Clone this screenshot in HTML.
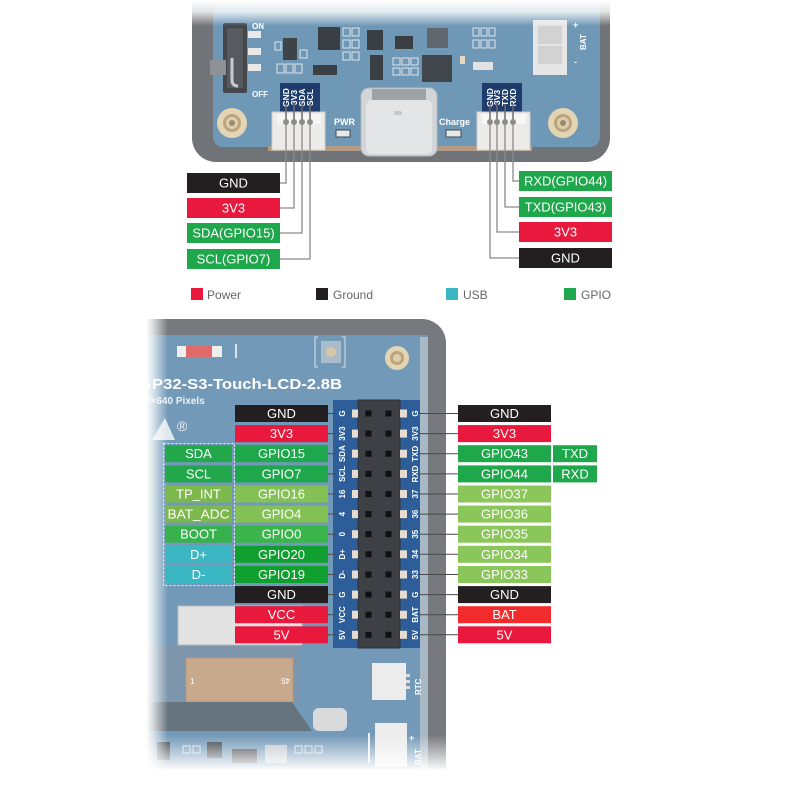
<!DOCTYPE html>
<html><head><meta charset="utf-8"><style>html,body{margin:0;padding:0;background:#fff}svg{display:block}</style></head>
<body>
<svg width="800" height="800" viewBox="0 0 800 800" xmlns="http://www.w3.org/2000/svg" font-family="'Liberation Sans', Arial, sans-serif">
<defs>
<linearGradient id="gT" x1="0" y1="0" x2="0" y2="1"><stop offset="0" stop-color="#fff"/><stop offset="0.45" stop-color="#fff" stop-opacity="0.8"/><stop offset="1" stop-color="#fff" stop-opacity="0"/></linearGradient>
<linearGradient id="gL" x1="0" y1="0" x2="1" y2="0"><stop offset="0" stop-color="#fff"/><stop offset="0.3" stop-color="#fff" stop-opacity="0.75"/><stop offset="1" stop-color="#fff" stop-opacity="0"/></linearGradient>
<linearGradient id="gB" x1="0" y1="0" x2="0" y2="1"><stop offset="0" stop-color="#fff" stop-opacity="0"/><stop offset="0.6" stop-color="#fff" stop-opacity="0.6"/><stop offset="1" stop-color="#fff"/></linearGradient>
</defs>
<rect width="800" height="800" fill="#fff"/>

<!-- ============ TOP BOARD ============ -->
<rect x="192" y="-40" width="418" height="202" rx="24" fill="#707377"/>
<rect x="213" y="-40" width="387" height="187" rx="10" fill="#6f97b6"/>
<rect x="268" y="146" width="264" height="5" fill="#b29a84"/>

<!-- switch -->
<rect x="223" y="23" width="24" height="70" rx="2" fill="#43474c"/>
<rect x="227" y="28" width="16" height="60" fill="#575b60"/>
<rect x="210" y="60" width="16" height="15" fill="#8e9296"/>
<path d="M232 58 V80 Q232 86 238 86" stroke="#c8cbce" stroke-width="3" fill="none"/>
<rect x="248" y="31" width="13" height="7" fill="#e9e9e9"/>
<rect x="248" y="48" width="13" height="7" fill="#e9e9e9"/>
<rect x="248" y="64" width="13" height="7" fill="#e9e9e9"/>
<text x="252" y="29" font-size="8" font-weight="bold" fill="#fff">ON</text>
<text x="252" y="97" font-size="8" font-weight="bold" fill="#fff">OFF</text>

<!-- chips top -->
<rect x="283" y="38" width="14" height="22" fill="#3f4449"/>
<rect x="318" y="27" width="22" height="23" fill="#3a3f44"/>
<rect x="367" y="30" width="16" height="20" fill="#3a3f44"/>
<rect x="395" y="36" width="18" height="13" fill="#3a3f44"/>
<rect x="427" y="28" width="21" height="20" fill="#5f666e"/>
<rect x="422" y="55" width="30" height="27" fill="#41464c"/>
<rect x="370" y="55" width="13" height="25" fill="#3a3f44"/>
<rect x="313" y="65" width="24" height="10" fill="#3a3f44"/>
<g stroke="#dde5eb" stroke-width="1" fill="none">
<rect x="473" y="28" width="6" height="8"/><rect x="481" y="28" width="6" height="8"/><rect x="489" y="28" width="6" height="8"/>
<rect x="473" y="40" width="6" height="8"/><rect x="481" y="40" width="6" height="8"/><rect x="489" y="40" width="6" height="8"/>
<rect x="393" y="58" width="7" height="7"/><rect x="402" y="58" width="7" height="7"/><rect x="411" y="58" width="7" height="7"/>
<rect x="393" y="68" width="7" height="7"/><rect x="402" y="68" width="7" height="7"/><rect x="411" y="68" width="7" height="7"/>
<rect x="277" y="64" width="7" height="9"/><rect x="286" y="64" width="7" height="9"/><rect x="295" y="64" width="7" height="9"/>
<rect x="343" y="28" width="7" height="8"/><rect x="352" y="28" width="7" height="8"/><rect x="343" y="40" width="7" height="8"/>
<rect x="352" y="40" width="7" height="8"/><rect x="343" y="52" width="7" height="8"/><rect x="352" y="52" width="7" height="8"/>
<rect x="300" y="50" width="7" height="8"/><rect x="275" y="42" width="6" height="8"/>
</g>
<rect x="473" y="62" width="20" height="8" fill="#e2e2e2"/>
<rect x="460" y="56" width="5" height="8" fill="#e8d8c0"/>

<!-- battery connector top -->
<rect x="533" y="20" width="34" height="55" fill="#e6e6e6"/>
<rect x="538" y="26" width="24" height="18" fill="#d2d2d2"/>
<rect x="538" y="46" width="24" height="18" fill="#d2d2d2"/>
<text x="573" y="28" font-size="9" font-weight="bold" fill="#fff">+</text>
<text transform="translate(586,50) rotate(-90)" font-size="8" font-weight="bold" fill="#fff">BAT</text>
<text x="574" y="65" font-size="9" font-weight="bold" fill="#fff">-</text>

<!-- mount holes top -->
<circle cx="232" cy="123" r="15" fill="#e3d5b3"/><circle cx="232" cy="123" r="9" fill="#bba47e"/><circle cx="232" cy="123" r="6" fill="#ddcfae"/><circle cx="232" cy="123" r="3" fill="#9a8a70"/>
<circle cx="563" cy="123" r="15" fill="#e3d5b3"/><circle cx="563" cy="123" r="9" fill="#bba47e"/><circle cx="563" cy="123" r="6" fill="#ddcfae"/><circle cx="563" cy="123" r="3" fill="#9a8a70"/>

<!-- USB-C -->
<rect x="361" y="88" width="76" height="68" rx="8" fill="#d3d6d9" stroke="#b3b8bc"/>
<rect x="372" y="89" width="54" height="12" fill="#9da2a7"/>
<rect x="366" y="100" width="66" height="54" rx="6" fill="#e3e5e7"/>
<rect x="394" y="111" width="8" height="4" rx="2" fill="#c4c7ca"/>

<text x="334" y="125" font-size="9" font-weight="bold" fill="#fff">PWR</text>
<rect x="336" y="130" width="14" height="7" fill="#e8e8e8" stroke="#3b4a58"/>
<text x="439" y="125" font-size="9" font-weight="bold" fill="#fff">Charge</text>
<rect x="446" y="130" width="15" height="7" fill="#e8e8e8" stroke="#3b4a58"/>

<!-- left connector -->
<rect x="280" y="83" width="40" height="29" fill="#1f3d6c"/>
<g font-size="8.5" font-weight="bold" fill="#fff" text-anchor="middle">
<text transform="translate(289,97.5) rotate(-90)">GND</text>
<text transform="translate(297,97.5) rotate(-90)">3V3</text>
<text transform="translate(305,97.5) rotate(-90)">SDA</text>
<text transform="translate(313,97.5) rotate(-90)">SCL</text>
</g>
<rect x="272" y="112" width="53" height="38" fill="#ecebe8" stroke="#cfcfcf"/>
<rect x="277" y="114" width="44" height="10" fill="#f6f6f4"/>
<!-- right connector -->
<rect x="482" y="83" width="40" height="29" fill="#1f3d6c"/>
<g font-size="8.5" font-weight="bold" fill="#fff" text-anchor="middle">
<text transform="translate(493,97.5) rotate(-90)">GND</text>
<text transform="translate(500,97.5) rotate(-90)">3V3</text>
<text transform="translate(508,97.5) rotate(-90)">TXD</text>
<text transform="translate(516,97.5) rotate(-90)">RXD</text>
</g>
<rect x="477" y="112" width="53" height="38" fill="#ecebe8" stroke="#cfcfcf"/>
<rect x="482" y="114" width="44" height="10" fill="#f6f6f4"/>

<!-- pins & wires top -->
<g stroke="#6d6d6d" stroke-width="1.5">
<line x1="286" y1="104" x2="286" y2="122"/><line x1="294" y1="104" x2="294" y2="122"/><line x1="302" y1="104" x2="302" y2="122"/><line x1="310" y1="104" x2="310" y2="122"/>
<line x1="490" y1="104" x2="490" y2="122"/><line x1="497" y1="104" x2="497" y2="122"/><line x1="505" y1="104" x2="505" y2="122"/><line x1="513" y1="104" x2="513" y2="122"/>
</g>
<g fill="#8d8d8d">
<circle cx="286" cy="122" r="3"/><circle cx="294" cy="122" r="3"/><circle cx="302" cy="122" r="3"/><circle cx="310" cy="122" r="3"/>
<circle cx="490" cy="122" r="3"/><circle cx="497" cy="122" r="3"/><circle cx="505" cy="122" r="3"/><circle cx="513" cy="122" r="3"/>
</g>
<g stroke="#8a8a8a" stroke-width="1.3" fill="none">
<path d="M286 122 V183 H280"/><path d="M294 122 V208 H280"/><path d="M302 122 V233 H280"/><path d="M310 122 V259 H280"/>
<path d="M513 122 V181 H519"/><path d="M505 122 V207 H519"/><path d="M497 122 V232 H519"/><path d="M490 122 V258 H519"/>
</g>

<rect x="170" y="0" width="460" height="26" fill="url(#gT)"/>

<!-- top labels -->
<g font-size="13" fill="#fff" text-anchor="middle">
<rect x="187" y="173" width="93" height="20" fill="#231f20"/><text x="233.5" y="187.6">GND</text>
<rect x="187" y="198" width="93" height="20" fill="#e8193c"/><text x="233.5" y="212.6">3V3</text>
<rect x="187" y="223" width="93" height="20" fill="#1ea84b"/><text x="233.5" y="237.6">SDA(GPIO15)</text>
<rect x="187" y="249" width="93" height="20" fill="#1ea84b"/><text x="233.5" y="263.6">SCL(GPIO7)</text>
<rect x="519" y="171" width="93" height="20" fill="#1ea84b"/><text x="565.5" y="185.6">RXD(GPIO44)</text>
<rect x="519" y="197" width="93" height="20" fill="#1ea84b"/><text x="565.5" y="211.6">TXD(GPIO43)</text>
<rect x="519" y="222" width="93" height="20" fill="#e8193c"/><text x="565.5" y="236.6">3V3</text>
<rect x="519" y="248" width="93" height="20" fill="#231f20"/><text x="565.5" y="262.6">GND</text>
</g>

<!-- legend -->
<g font-size="12" fill="#666">
<rect x="191" y="288" width="12" height="12" fill="#e8193c"/><text x="207" y="299">Power</text>
<rect x="316" y="288" width="12" height="12" fill="#231f20"/><text x="333" y="299">Ground</text>
<rect x="446" y="288" width="12" height="12" fill="#3bb7c3"/><text x="463" y="299">USB</text>
<rect x="564" y="288" width="12" height="12" fill="#1ea84b"/><text x="581" y="299">GPIO</text>
</g>

<!-- ============ BOTTOM BOARD ============ -->
<rect x="147" y="319" width="299" height="520" rx="24" fill="#76797d"/>
<rect x="147" y="319" width="40" height="520" fill="#76797d"/>
<rect x="147" y="335" width="281" height="500" fill="#7299b7"/>
<rect x="420" y="337" width="8" height="470" fill="#a9b8c5"/>

<rect x="177" y="346" width="45" height="11" fill="#efefef"/>
<rect x="186" y="346" width="26" height="11" fill="#e06a6a"/>
<rect x="235" y="344" width="2" height="14" fill="#e2e2e2"/>
<path d="M318 337 h-3 v30 h3 M342 337 h3 v30 h-3" stroke="#dce4ea" stroke-width="1" fill="none"/>
<rect x="321" y="341" width="20" height="22" fill="#a9bccb"/>
<circle cx="331" cy="352" r="5" fill="#d8c8a8"/>
<circle cx="397" cy="358" r="12" fill="#e3d5b3"/><circle cx="397" cy="358" r="7" fill="#bba47e"/><circle cx="397" cy="358" r="4" fill="#ddcfae"/>

<text x="141" y="389" font-size="15" font-weight="bold" fill="#fff">S</text>
<text x="152" y="389" font-size="15" font-weight="bold" fill="#fff" textLength="190" lengthAdjust="spacingAndGlyphs">P32-S3-Touch-LCD-2.8B</text>
<text x="145" y="404" font-size="10" font-weight="bold" fill="#eef2f5">0×640 Pixels</text>
<text x="177" y="431" font-size="14" fill="#eef2f5">®</text>
<path d="M152 440 L165 418 L175 440 Z" fill="#dfe7ee"/>

<!-- FPC / lower board -->
<rect x="150" y="645" width="150" height="58" fill="#7d96ab"/>
<rect x="178" y="606" width="124" height="39" fill="#e2e2e2" stroke="#b8bcc0"/>
<rect x="186" y="658" width="107" height="44" fill="#c9a98c" stroke="#b7977c"/>
<text x="190" y="684" font-size="8" fill="#fff">1</text>
<text transform="translate(290,678) rotate(180)" font-size="8" fill="#fff">45</text>
<polygon points="147,702 292,702 312,731 147,731" fill="#66747f"/>
<rect x="313" y="708" width="34" height="23" rx="6" fill="#d8dadc"/>
<rect x="372" y="663" width="34" height="37" fill="#ececec"/>
<rect x="406" y="674" width="4" height="3" fill="#ddd"/><rect x="406" y="680" width="4" height="3" fill="#ddd"/><rect x="406" y="686" width="4" height="3" fill="#ddd"/>
<text transform="translate(421,695) rotate(-90)" font-size="8" font-weight="bold" fill="#fff">RTC</text>
<rect x="375" y="723" width="32" height="44" fill="#ececec"/>
<rect x="368" y="733" width="2" height="30" fill="#f2f2f2"/>
<text x="409" y="741" font-size="9" font-weight="bold" fill="#fff">+</text>
<text transform="translate(421,765) rotate(-90)" font-size="8" font-weight="bold" fill="#fff">BAT</text>
<rect x="157" y="742" width="13" height="18" fill="#3f4449"/>
<rect x="207" y="742" width="15" height="16" fill="#3f4449"/>
<rect x="232" y="749" width="25" height="14" fill="#3f4449"/>
<rect x="265" y="745" width="22" height="18" fill="#c3c9cf"/>
<g stroke="#dde5eb" fill="none"><rect x="295" y="746" width="7" height="7"/><rect x="305" y="746" width="7" height="7"/><rect x="315" y="746" width="7" height="7"/><rect x="183" y="746" width="7" height="7"/><rect x="193" y="746" width="7" height="7"/></g>

<!-- header -->
<rect x="333" y="400" width="87" height="248" fill="#2d5e9a"/>
<rect x="358" y="400" width="42" height="248" fill="#3d4045" stroke="#2e3135"/>
<g fill="#111">
<rect x="365.5" y="410.5" width="6" height="6"/><rect x="385.5" y="410.5" width="6" height="6"/>
<rect x="365.5" y="430.6" width="6" height="6"/><rect x="385.5" y="430.6" width="6" height="6"/>
<rect x="365.5" y="450.7" width="6" height="6"/><rect x="385.5" y="450.7" width="6" height="6"/>
<rect x="365.5" y="470.9" width="6" height="6"/><rect x="385.5" y="470.9" width="6" height="6"/>
<rect x="365.5" y="491" width="6" height="6"/><rect x="385.5" y="491" width="6" height="6"/>
<rect x="365.5" y="511.1" width="6" height="6"/><rect x="385.5" y="511.1" width="6" height="6"/>
<rect x="365.5" y="531.2" width="6" height="6"/><rect x="385.5" y="531.2" width="6" height="6"/>
<rect x="365.5" y="551.3" width="6" height="6"/><rect x="385.5" y="551.3" width="6" height="6"/>
<rect x="365.5" y="571.5" width="6" height="6"/><rect x="385.5" y="571.5" width="6" height="6"/>
<rect x="365.5" y="591.6" width="6" height="6"/><rect x="385.5" y="591.6" width="6" height="6"/>
<rect x="365.5" y="611.7" width="6" height="6"/><rect x="385.5" y="611.7" width="6" height="6"/>
<rect x="365.5" y="631.8" width="6" height="6"/><rect x="385.5" y="631.8" width="6" height="6"/>
</g>
<g fill="#e7dccf">
<rect x="352" y="409.5" width="6" height="8"/><rect x="400" y="409.5" width="7" height="8"/>
<rect x="352" y="429.6" width="6" height="8"/><rect x="400" y="429.6" width="7" height="8"/>
<rect x="352" y="449.7" width="6" height="8"/><rect x="400" y="449.7" width="7" height="8"/>
<rect x="352" y="469.9" width="6" height="8"/><rect x="400" y="469.9" width="7" height="8"/>
<rect x="352" y="490" width="6" height="8"/><rect x="400" y="490" width="7" height="8"/>
<rect x="352" y="510.1" width="6" height="8"/><rect x="400" y="510.1" width="7" height="8"/>
<rect x="352" y="530.2" width="6" height="8"/><rect x="400" y="530.2" width="7" height="8"/>
<rect x="352" y="550.3" width="6" height="8"/><rect x="400" y="550.3" width="7" height="8"/>
<rect x="352" y="570.5" width="6" height="8"/><rect x="400" y="570.5" width="7" height="8"/>
<rect x="352" y="590.6" width="6" height="8"/><rect x="400" y="590.6" width="7" height="8"/>
<rect x="352" y="610.7" width="6" height="8"/><rect x="400" y="610.7" width="7" height="8"/>
<rect x="352" y="630.8" width="6" height="8"/><rect x="400" y="630.8" width="7" height="8"/>
</g>
<g font-size="8" font-weight="bold" fill="#fff" text-anchor="middle">
<text transform="translate(345,413.5) rotate(-90)">G</text>
<text transform="translate(345,433.6) rotate(-90)">3V3</text>
<text transform="translate(345,453.7) rotate(-90)">SDA</text>
<text transform="translate(345,473.9) rotate(-90)">SCL</text>
<text transform="translate(345,494) rotate(-90)">16</text>
<text transform="translate(345,514.1) rotate(-90)">4</text>
<text transform="translate(345,534.2) rotate(-90)">0</text>
<text transform="translate(345,554.3) rotate(-90)">D+</text>
<text transform="translate(345,574.5) rotate(-90)">D-</text>
<text transform="translate(345,594.6) rotate(-90)">G</text>
<text transform="translate(345,614.7) rotate(-90)">VCC</text>
<text transform="translate(345,634.8) rotate(-90)">5V</text>
<text transform="translate(418,413.5) rotate(-90)">G</text>
<text transform="translate(418,433.6) rotate(-90)">3V3</text>
<text transform="translate(418,453.7) rotate(-90)">TXD</text>
<text transform="translate(418,473.9) rotate(-90)">RXD</text>
<text transform="translate(418,494) rotate(-90)">37</text>
<text transform="translate(418,514.1) rotate(-90)">36</text>
<text transform="translate(418,534.2) rotate(-90)">35</text>
<text transform="translate(418,554.3) rotate(-90)">34</text>
<text transform="translate(418,574.5) rotate(-90)">33</text>
<text transform="translate(418,594.6) rotate(-90)">G</text>
<text transform="translate(418,614.7) rotate(-90)">BAT</text>
<text transform="translate(418,634.8) rotate(-90)">5V</text>
</g>

<!-- fades -->
<rect x="100" y="300" width="47" height="500" fill="#fff"/>
<rect x="146" y="300" width="22" height="500" fill="url(#gL)"/>
<rect x="100" y="735" width="370" height="36" fill="url(#gB)"/>
<rect x="100" y="770" width="370" height="30" fill="#fff"/>

<!-- connector lines -->
<g stroke="#4a4a4a" stroke-width="1">
<line x1="328" y1="413.5" x2="336" y2="413.5"/><line x1="419" y1="413.5" x2="458" y2="413.5"/>
<line x1="328" y1="433.6" x2="336" y2="433.6"/><line x1="419" y1="433.6" x2="458" y2="433.6"/>
<line x1="328" y1="453.7" x2="336" y2="453.7"/><line x1="419" y1="453.7" x2="458" y2="453.7"/>
<line x1="328" y1="473.9" x2="336" y2="473.9"/><line x1="419" y1="473.9" x2="458" y2="473.9"/>
<line x1="328" y1="494" x2="336" y2="494"/><line x1="419" y1="494" x2="458" y2="494"/>
<line x1="328" y1="514.1" x2="336" y2="514.1"/><line x1="419" y1="514.1" x2="458" y2="514.1"/>
<line x1="328" y1="534.2" x2="336" y2="534.2"/><line x1="419" y1="534.2" x2="458" y2="534.2"/>
<line x1="328" y1="554.3" x2="336" y2="554.3"/><line x1="419" y1="554.3" x2="458" y2="554.3"/>
<line x1="328" y1="574.5" x2="336" y2="574.5"/><line x1="419" y1="574.5" x2="458" y2="574.5"/>
<line x1="328" y1="594.6" x2="336" y2="594.6"/><line x1="419" y1="594.6" x2="458" y2="594.6"/>
<line x1="328" y1="614.7" x2="336" y2="614.7"/><line x1="419" y1="614.7" x2="458" y2="614.7"/>
<line x1="328" y1="634.8" x2="336" y2="634.8"/><line x1="419" y1="634.8" x2="458" y2="634.8"/>
</g>

<rect x="163.5" y="443.5" width="71" height="142" fill="none" stroke="#f2f5f8" stroke-width="1" stroke-dasharray="2,2"/>

<!-- left labels -->
<g font-size="13" fill="#fff" text-anchor="middle">
<rect x="235" y="405" width="93" height="17" fill="#231f20"/><text x="281.5" y="418">GND</text>
<rect x="235" y="425.1" width="93" height="17" fill="#e8193c"/><text x="281.5" y="438.1">3V3</text>
<rect x="165" y="445.2" width="67" height="17" fill="#22a84a"/><text x="198.5" y="458.2">SDA</text>
<rect x="235" y="445.2" width="93" height="17" fill="#1ea84b"/><text x="281.5" y="458.2">GPIO15</text>
<rect x="165" y="465.4" width="67" height="17" fill="#22a84a"/><text x="198.5" y="478.4">SCL</text>
<rect x="235" y="465.4" width="93" height="17" fill="#1ea84b"/><text x="281.5" y="478.4">GPIO7</text>
<rect x="165" y="485.5" width="67" height="17" fill="#7cb84c"/><text x="198.5" y="498.5">TP_INT</text>
<rect x="235" y="485.5" width="93" height="17" fill="#84c155"/><text x="281.5" y="498.5">GPIO16</text>
<rect x="165" y="505.6" width="67" height="17" fill="#7cb84c"/><text x="198.5" y="518.6" textLength="62" lengthAdjust="spacingAndGlyphs">BAT_ADC</text>
<rect x="235" y="505.6" width="93" height="17" fill="#84c155"/><text x="281.5" y="518.6">GPIO4</text>
<rect x="165" y="525.7" width="67" height="17" fill="#36b14c"/><text x="198.5" y="538.7">BOOT</text>
<rect x="235" y="525.7" width="93" height="17" fill="#3ab54a"/><text x="281.5" y="538.7">GPIO0</text>
<rect x="165" y="545.8" width="67" height="17" fill="#3bb7c3"/><text x="198.5" y="558.8">D+</text>
<rect x="235" y="545.8" width="93" height="17" fill="#0f9f2e"/><text x="281.5" y="558.8">GPIO20</text>
<rect x="165" y="566" width="67" height="17" fill="#3bb7c3"/><text x="198.5" y="579">D-</text>
<rect x="235" y="566" width="93" height="17" fill="#0f9f2e"/><text x="281.5" y="579">GPIO19</text>
<rect x="235" y="586.1" width="93" height="17" fill="#231f20"/><text x="281.5" y="599.1">GND</text>
<rect x="235" y="606.2" width="93" height="17" fill="#e8193c"/><text x="281.5" y="619.2">VCC</text>
<rect x="235" y="626.3" width="93" height="17" fill="#e8193c"/><text x="281.5" y="639.3">5V</text>
</g>

<!-- right labels -->
<g font-size="13" fill="#fff" text-anchor="middle">
<rect x="458" y="405" width="93" height="17" fill="#231f20"/><text x="504.5" y="418">GND</text>
<rect x="458" y="425.1" width="93" height="17" fill="#e8193c"/><text x="504.5" y="438.1">3V3</text>
<rect x="458" y="445.2" width="93" height="17" fill="#1ea84b"/><text x="504.5" y="458.2">GPIO43</text>
<rect x="553" y="445.2" width="44" height="17" fill="#1ea84b"/><text x="575" y="458.2">TXD</text>
<rect x="458" y="465.4" width="93" height="17" fill="#1ea84b"/><text x="504.5" y="478.4">GPIO44</text>
<rect x="553" y="465.4" width="44" height="17" fill="#1ea84b"/><text x="575" y="478.4">RXD</text>
<rect x="458" y="485.5" width="93" height="17" fill="#8bc65a"/><text x="504.5" y="498.5">GPIO37</text>
<rect x="458" y="505.6" width="93" height="17" fill="#8bc65a"/><text x="504.5" y="518.6">GPIO36</text>
<rect x="458" y="525.7" width="93" height="17" fill="#8bc65a"/><text x="504.5" y="538.7">GPIO35</text>
<rect x="458" y="545.8" width="93" height="17" fill="#8bc65a"/><text x="504.5" y="558.8">GPIO34</text>
<rect x="458" y="566" width="93" height="17" fill="#8bc65a"/><text x="504.5" y="579">GPIO33</text>
<rect x="458" y="586.1" width="93" height="17" fill="#231f20"/><text x="504.5" y="599.1">GND</text>
<rect x="458" y="606.2" width="93" height="17" fill="#f22b2d"/><text x="504.5" y="619.2">BAT</text>
<rect x="458" y="626.3" width="93" height="17" fill="#e8193c"/><text x="504.5" y="639.3">5V</text>
</g>
</svg>
</body></html>
